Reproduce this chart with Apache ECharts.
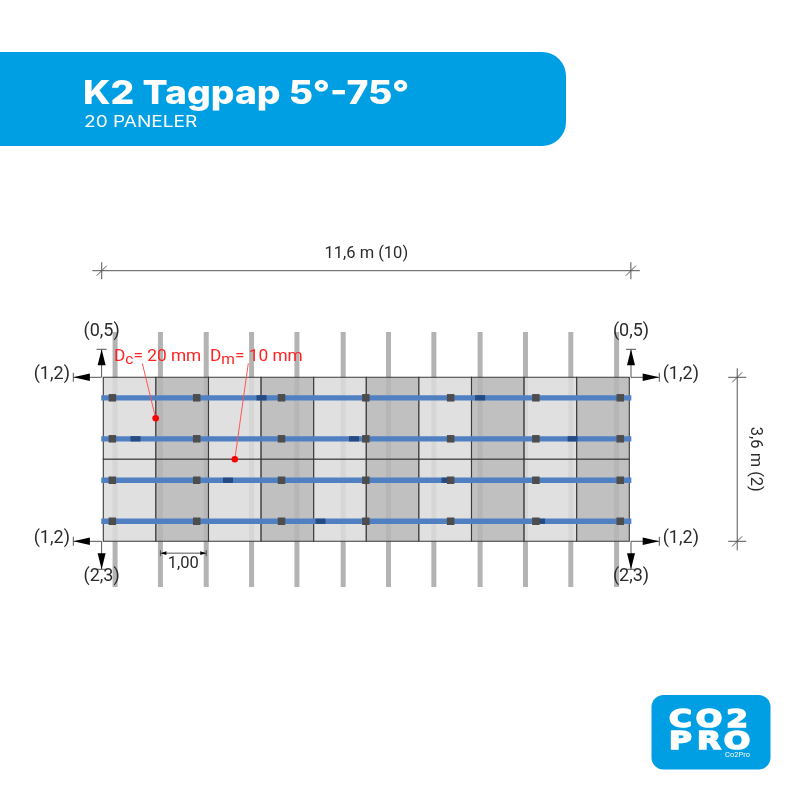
<!DOCTYPE html>
<html>
<head>
<meta charset="utf-8">
<title>K2 Tagpap</title>
<style>html,body{margin:0;padding:0;background:#fff}</style>
<script src="https://cdn.jsdelivr.net/npm/echarts@6/dist/echarts.min.js"></script>
</head>
<body>
<div id="chartmain" style="width:790px;height:790px;"></div>
<script>
// all lengths in metres, measured from the top left corner of the panel field
var panelCols = [0, 1.16, 2.32, 3.48, 4.64, 5.8, 6.96, 8.12, 9.28, 10.44];
var panelRows = [0, 1.8];
var panelShade = [0, 1, 0, 1, 0, 1, 0, 1, 0, 1];
var rafterX = [0.26, 1.26, 2.27, 3.27, 4.27, 5.29, 6.29, 7.29, 8.31, 9.31, 10.31, 11.32];
var railY = [0.45, 1.35, 2.26, 3.16];
var clampX = [0.2, 2.06, 3.93, 5.79, 7.66, 9.54, 11.4];
var jointX = [3.49, 8.31, 0.71, 5.53, 10.35, 2.75, 7.57, 4.79, 9.63];
var jointY = [0.45, 0.45, 1.35, 1.35, 1.35, 2.26, 2.26, 3.16, 3.16];
var cornerX = [0, 11.6, 0, 11.6];
var cornerY = [0, 0, 3.6, 3.6];
var cornerSideLabel = ['(1,2)', '(1,2)', '(1,2)', '(1,2)'];
var cornerEndLabel = ['(0,5)', '(0,5)', '(2,3)', '(2,3)'];
var dotX = [1.155, 2.9];
var dotY = [0.9, 1.8];
var dotLabel = ['c', 'm'];
var dotValue = ['= 20 mm', '= 10 mm'];
var logoRow1 = ['C', 'O', '2'];
var logoRow2 = ['P', 'R', 'O'];

var BLUE = '#009fe3', INK = '#2b2b2b', DIM = '#555';

function line(x1, y1, x2, y2, color, width) {
	return { type: 'line', shape: { x1: x1, y1: y1, x2: x2, y2: y2 }, style: { stroke: color || INK, lineWidth: width || 1 } };
}
function tri(a, b, c) {
	return { type: 'polygon', shape: { points: [a, b, c] }, style: { fill: '#000' } };
}
function label(t, x, y, align, size, color) {
	return { type: 'text', style: { text: t, x: x, y: y, align: align || 'center', verticalAlign: 'middle', fontFamily: 'Roboto', fontSize: size || 16.5, fill: color || INK } };
}
function rect(api, x, y, w, h, style) {
	// x,y is the centre in metres, w,h in pixels
	var p = api.coord([x, y]);
	return { type: 'rect', shape: { x: p[0] - w / 2, y: p[1] - h / 2, width: w, height: h }, style: style };
}
// one block letter of the logo, stretched to fill its cell
function logoLetter(t, x, y) {
	return {
		type: 'text', x: x, y: y, scaleX: 1.3, silent: true,
		style: { text: t, align: 'center', verticalAlign: 'middle', fontFamily: 'DejaVu Sans', fontWeight: 'bold', fontSize: 24, fill: '#fff', stroke: '#fff', lineWidth: 1.5 }
	};
}

var rafterData = rafterX.map(function (x) { return [x]; });
var railData = railY.map(function (y) { return [y]; });
var clampData = [];
railY.forEach(function (y) { clampX.forEach(function (x) { clampData.push([x, y]); }); });
var jointData = jointX.map(function (x, i) { return [x, jointY[i]]; });
var panelData = [];
panelRows.forEach(function (r) { panelCols.forEach(function (c, i) { panelData.push([c, r, panelShade[i]]); }); });
var cornerData = cornerX.map(function (x, i) { return [x, cornerY[i], i]; });
var dotData = dotX.map(function (x, i) { return [x, dotY[i], i]; });

var headerGraphics = [
	{ type: 'rect', shape: { x: -30, y: 52, width: 596, height: 94, r: 24 }, style: { fill: BLUE } },
	{ type: 'text', x: 83, y: 94, scaleX: 1.13, style: { text: 'K2 Tagpap 5°-75°', verticalAlign: 'middle', fontFamily: 'Inter', fontWeight: 800, fontSize: 33, fill: '#fff' } },
	{ type: 'text', x: 84, y: 122, scaleX: 1.23, style: { text: '20 PANELER', verticalAlign: 'middle', fontFamily: 'Inter', fontSize: 15.5, fill: '#fff' } },
	// logo
	{ type: 'rect', shape: { x: 651.5, y: 695, width: 119, height: 74.5, r: 12 }, style: { fill: BLUE } },
	{ type: 'text', x: 737.5, y: 755, style: { text: 'Co2Pro', align: 'center', verticalAlign: 'middle', fontFamily: 'Roboto', fontSize: 7.5, fill: '#fff' } }
];
[680.5, 709, 737].forEach(function (x, i) {
	headerGraphics.push(logoLetter(logoRow1[i], x, 720.5));
	headerGraphics.push(logoLetter(logoRow2[i], x, 742.5));
});

var option = {
	animation: false,
	grid: { left: 103.3, top: 377.3, width: 526, height: 164 },
	xAxis: { type: 'value', min: 0, max: 11.6, show: false },
	yAxis: { type: 'value', min: 0, max: 3.6, inverse: true, show: false },
	graphic: headerGraphics,
	series: [
		{
			name: 'rafters', type: 'custom', coordinateSystem: 'cartesian2d', z: 1, data: rafterData,
			encode: { x: 0 },
			renderItem: function (params, api) {
				var x = api.coord([api.value(0), 0])[0];
				return { type: 'rect', shape: { x: x - 2.5, y: 332, width: 5, height: 255 }, style: { fill: '#b3b3b3' } };
			}
		},
		{
			name: 'panels', type: 'custom', coordinateSystem: 'cartesian2d', z: 2, data: panelData,
			encode: { x: 0, y: 1 },
			renderItem: function (params, api) {
				var p = api.coord([api.value(0), api.value(1)]);
				var q = api.coord([api.value(0) + 1.16, api.value(1) + 1.8]);
				return {
					type: 'rect', shape: { x: p[0], y: p[1], width: q[0] - p[0], height: q[1] - p[1] },
					style: { fill: api.value(2) ? 'rgba(183,183,183,0.87)' : 'rgba(219,219,219,0.87)', stroke: '#3a3a3a', lineWidth: 1.1 }
				};
			}
		},
		{
			name: 'rails', type: 'custom', coordinateSystem: 'cartesian2d', z: 3, data: railData,
			encode: { y: 0 },
			renderItem: function (params, api) {
				var p = api.coord([-0.045, api.value(0)]), q = api.coord([11.645, api.value(0)]);
				return { type: 'rect', shape: { x: p[0], y: p[1] - 2.65, width: q[0] - p[0], height: 5.3 }, style: { fill: '#5080c2' } };
			}
		},
		{
			name: 'joints', type: 'custom', coordinateSystem: 'cartesian2d', z: 4, data: jointData,
			encode: { x: 0, y: 1 },
			renderItem: function (params, api) {
				return rect(api, api.value(0), api.value(1), 10, 5.3, { fill: '#264a82' });
			}
		},
		{
			name: 'clamps', type: 'custom', coordinateSystem: 'cartesian2d', z: 5, data: clampData,
			encode: { x: 0, y: 1 },
			renderItem: function (params, api) {
				return rect(api, api.value(0), api.value(1), 7.5, 7.5, { fill: '#4d4d4d' });
			}
		},
		{
			name: 'corners', type: 'custom', coordinateSystem: 'cartesian2d', z: 6, data: cornerData,
			encode: { x: 0, y: 1 },
			renderItem: function (params, api) {
				var c = api.coord([api.value(0), api.value(1)]);
				var i = api.value(2);
				var sx = c[0] < 300 ? -1 : 1, sy = c[1] < 450 ? -1 : 1;
				var vx = c[0] + sx * 1.7, y = c[1];
				return {
					type: 'group', children: [
						line(vx, y, c[0] + sx * 30, y, DIM),
						tri([c[0] + sx * 13.4, y - 3.7], [c[0] + sx * 13.4, y + 3.7], [c[0] + sx * 30, y]),
						line(c[0] + sx * 30, y - 4.5, c[0] + sx * 30, y + 4.5, DIM),
						line(vx, y, vx, y + sy * 28, DIM),
						tri([vx - 4, y + sy * 12], [vx + 4, y + sy * 12], [vx, y + sy * 28]),
						line(vx - 5, y + sy * 28, vx + 5, y + sy * 28, DIM),
						label(cornerSideLabel[i], c[0] + sx * 33.4, y - 3, sx < 0 ? 'right' : 'left', 18),
						label(cornerEndLabel[i], vx, sy < 0 ? y - 46 : y + 35.5, 'center', 18)
					]
				};
			}
		},
		{
			name: 'dimensions', type: 'custom', coordinateSystem: 'cartesian2d', z: 6, data: [[0]],
			renderItem: function (params, api) {
				var a = api.coord([-0.035, -2.34]), b = api.coord([11.635, -2.34]);
				var r1 = api.coord([13.98, 0]), r2 = api.coord([13.98, 3.6]);
				var d1 = api.coord([1.26, 3.86]), d2 = api.coord([2.27, 3.86]);
				return {
					type: 'group', children: [
						line(a[0] - 9.4, a[1], b[0] + 9, a[1], DIM),
						line(a[0], a[1] - 8.5, a[0], a[1] + 8.5, DIM),
						line(a[0] - 5, a[1] + 5, a[0] + 5, a[1] - 5, DIM),
						line(b[0], a[1] - 8.5, b[0], a[1] + 8.5, DIM),
						line(b[0] - 5, a[1] + 5, b[0] + 5, a[1] - 5, DIM),
						label('11,6 m (10)', (a[0] + b[0]) / 2, a[1] - 16.5),
						line(r1[0], r1[1] - 9, r1[0], r2[1] + 9, DIM),
						line(r1[0] - 9, r1[1], r1[0] + 9, r1[1], DIM),
						line(r1[0] - 5, r1[1] + 5, r1[0] + 5, r1[1] - 5, DIM),
						line(r1[0] - 9, r2[1], r1[0] + 9, r2[1], DIM),
						line(r1[0] - 5, r2[1] + 5, r1[0] + 5, r2[1] - 5, DIM),
						{ type: 'text', x: r1[0] + 17.5, y: (r1[1] + r2[1]) / 2, rotation: -Math.PI / 2, style: { text: '3,6 m (2)', align: 'center', verticalAlign: 'middle', fontFamily: 'Roboto', fontSize: 16.5, fill: INK } },
						line(d1[0], d1[1], d2[0], d1[1], DIM),
						line(d1[0], d1[1] - 3, d1[0], d1[1] + 3, DIM),
						line(d2[0], d1[1] - 3, d2[0], d1[1] + 3, DIM),
						tri([d1[0], d1[1]], [d1[0] + 6, d1[1] - 1.8], [d1[0] + 6, d1[1] + 1.8]),
						tri([d2[0], d1[1]], [d2[0] - 6, d1[1] - 1.8], [d2[0] - 6, d1[1] + 1.8]),
						label('1,00', (d1[0] + d2[0]) / 2, d1[1] + 10.5)
					]
				};
			}
		},
		{
			name: 'deflection', type: 'custom', coordinateSystem: 'cartesian2d', z: 7, data: dotData,
			encode: { x: 0, y: 1 },
			renderItem: function (params, api) {
				var p = api.coord([api.value(0), api.value(1)]);
				var i = api.value(2);
				var top = [[142.3, 114], [248.3, 210]][i];
				return {
					type: 'group', children: [
						line(top[0], 363.3, p[0], p[1], '#f55', 1),
						{ type: 'circle', shape: { cx: p[0], cy: p[1], r: 3.3 }, style: { fill: '#f00' } },
						{
							type: 'text', style: {
								text: '{d|D}{s|' + dotLabel[i] + '}{d|' + dotValue[i] + '}', x: top[1], y: 357, verticalAlign: 'middle',
								fontFamily: 'Roboto', fill: '#f22',
								rich: {
									d: { fontFamily: 'Roboto', fontSize: 17.3, fill: '#f22' },
									s: { fontFamily: 'Roboto', fontSize: 15.5, fill: '#f22', padding: [7, 0, 0, 0] }
								}
							}
						}
					]
				};
			}
		}
	]
};
var mychart = echarts.init(document.getElementById('chartmain'));
mychart.setOption(option);
</script>
</body>
</html>
